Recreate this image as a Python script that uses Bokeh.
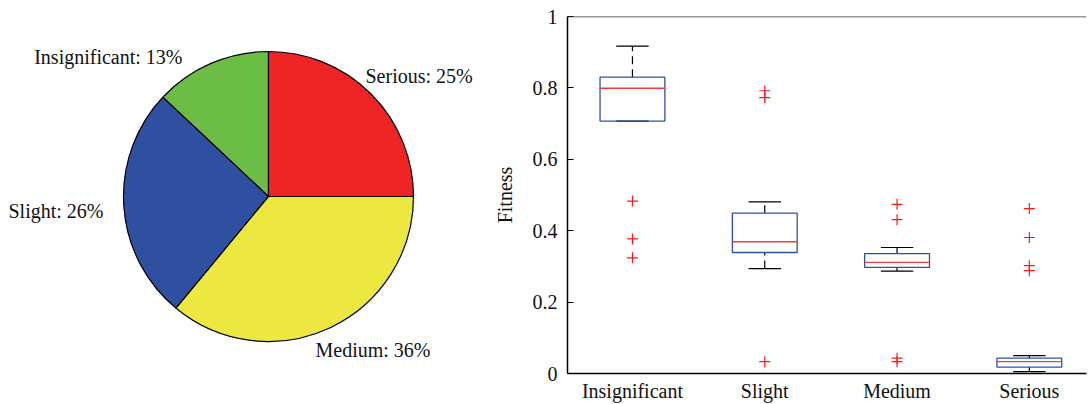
import math
from bokeh.plotting import figure
from bokeh.layouts import row
from bokeh.models import Range1d, FixedTicker, Span
from bokeh.core.properties import value
from bokeh.embed import file_html
from bokeh.resources import INLINE

# ---------------- data ----------------
categories = ["Insignificant", "Slight", "Medium", "Serious"]
shares = [13, 26, 36, 25]
pie_colors = ["#6CBD45", "#2F4FA1", "#EDE83F", "#EE2524"]

lower_whisker = [0.707, 0.294, 0.287, 0.005]
q1 = [0.707, 0.339, 0.297, 0.018]
median = [0.799, 0.369, 0.311, 0.033]
q3 = [0.830, 0.449, 0.336, 0.043]
upper_whisker = [0.917, 0.481, 0.353, 0.050]
outliers = [
    [0.483, 0.377, 0.324],
    [0.792, 0.773, 0.033],
    [0.474, 0.431, 0.043, 0.033],
    [0.462, 0.381, 0.302, 0.288],
]
y_ticks = [0, 0.2, 0.4, 0.6, 0.8, 1]

FONT = "Liberation Serif"

# ---------------- pie ----------------
R = 145
pie = figure(width=488, height=404, output_backend="svg", toolbar_location=None,
             x_range=Range1d(-268, 220), y_range=Range1d(-177, 180),
             min_border_left=0, min_border_right=0,
             min_border_top=16, min_border_bottom=31)
pie.axis.visible = False
pie.grid.visible = False
pie.outline_line_color = None

total = sum(shares)
starts, ends, mids = [], [], []
acc = math.pi / 2
for s in shares:
    a = 2 * math.pi * s / total
    starts.append(acc)
    ends.append(acc + a)
    mids.append(acc + a / 2)
    acc += a
pie.wedge(x=0, y=0, radius=R, start_angle=starts, end_angle=ends,
          fill_color=pie_colors, line_color="black", line_width=1.2)

# label anchors (offset from centre, px) and alignment
label_offsets = [(-86, 140), (-165, -14), (47, -153), (97, 121)]
for cat, s, (dx, dy), m in zip(categories, shares, label_offsets, mids):
    align = "left" if math.cos(m) > 0 else "right"
    pie.text(x=[dx], y=[dy], text=[f"{cat}: {s}%"], text_align=align,
             text_baseline="alphabetic", text_font=value(FONT),
             text_font_size="20px", text_color="#111111")

# ---------------- box plot ----------------
xs = list(range(1, len(categories) + 1))
bw = 0.49
cw = 0.245
box = figure(width=600, height=404, output_backend="svg", toolbar_location=None,
             x_range=Range1d(0.509, 4.432), y_range=Range1d(0, 1),
             min_border_left=79, min_border_right=2, min_border_top=16,
             min_border_bottom=0)
box.grid.visible = False
box.outline_line_color = None
box.add_layout(Span(location=1, dimension="width", line_color="#333333", line_width=1.5))

# whiskers
box.segment(x0=xs, y0=q3, x1=xs, y1=upper_whisker, line_color="black",
            line_width=1.2, line_dash="8 5")
box.segment(x0=xs, y0=lower_whisker, x1=xs, y1=q1, line_color="black",
            line_width=1.2, line_dash="8 5")
# caps
box.segment(x0=[x - cw / 2 for x in xs], y0=upper_whisker,
            x1=[x + cw / 2 for x in xs], y1=upper_whisker, line_color="black", line_width=1.2)
box.segment(x0=[x - cw / 2 for x in xs], y0=lower_whisker,
            x1=[x + cw / 2 for x in xs], y1=lower_whisker, line_color="black", line_width=1.2)
# boxes
box.quad(left=[x - bw / 2 for x in xs], right=[x + bw / 2 for x in xs],
         bottom=q1, top=q3, fill_color=None, line_color="#3050B0", line_width=1.3)
# medians
box.segment(x0=[x - bw / 2 for x in xs], y0=median,
            x1=[x + bw / 2 for x in xs], y1=median, line_color="#F03C3C", line_width=1.3)
# outliers
ox, oy = [], []
for x, outs in zip(xs, outliers):
    for o in outs:
        ox.append(x)
        oy.append(o)
box.scatter(x=ox, y=oy, marker="cross", size=11, line_color="#FF1A1A", line_width=1.2)

box.xaxis.ticker = FixedTicker(ticks=xs)
box.xaxis.major_label_overrides = {x: c for x, c in zip(xs, categories)}
box.xaxis.major_tick_in = 0
box.xaxis.major_tick_out = 0
box.xaxis.minor_tick_line_color = None
box.xaxis.major_label_standoff = 6

box.yaxis.ticker = FixedTicker(ticks=y_ticks)
box.yaxis.major_label_overrides = {0: "0", 1: "1"}
box.yaxis.major_tick_in = 6
box.yaxis.major_tick_out = 0
box.yaxis.minor_tick_line_color = None
box.yaxis.major_label_standoff = 10
box.yaxis.axis_label = "Fitness"
box.yaxis.axis_label_standoff = 14
box.yaxis.axis_label_text_font_style = "normal"

for ax in (box.xaxis, box.yaxis):
    ax.axis_line_color = "black"
    ax.axis_line_width = 1.5
    ax.major_tick_line_color = "black"
    ax.major_tick_line_width = 1.2
    ax.major_label_text_font = FONT
    ax.major_label_text_font_size = "20px"
    ax.major_label_text_color = "#111111"
    ax.axis_label_text_font = FONT
    ax.axis_label_text_font_size = "20px"
    ax.axis_label_text_color = "#111111"

layout = row(pie, box)
open("out.html", "w").write(file_html(layout, INLINE))
